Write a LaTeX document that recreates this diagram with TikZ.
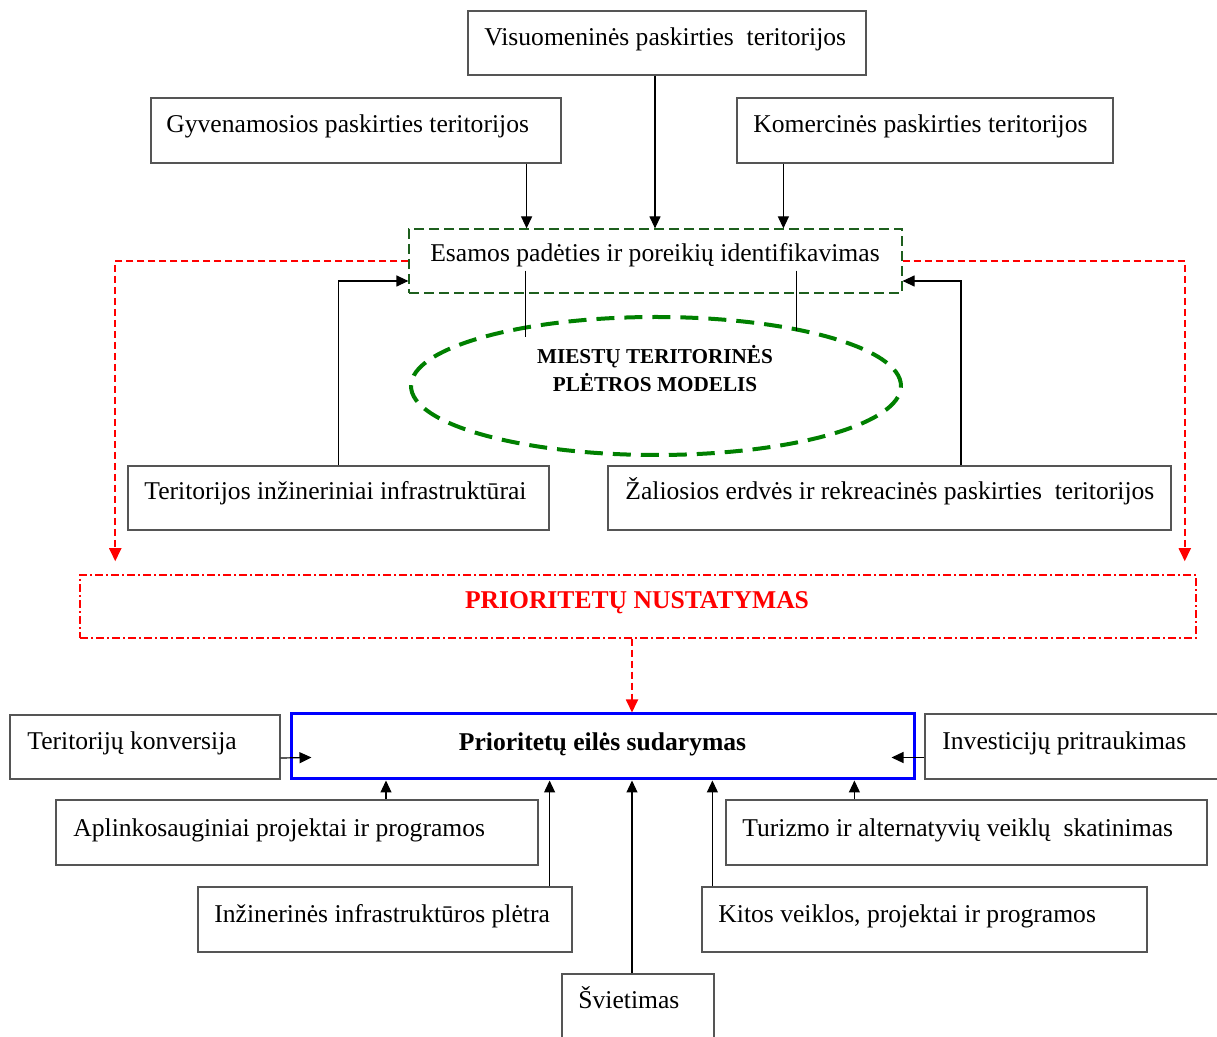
\documentclass[tikz,border=0pt]{standalone}
\usepackage{fontspec}
\setmainfont{Liberation Serif}
\usetikzlibrary{arrows.meta,calc,fit,shapes.geometric}
\definecolor{boxgray}{RGB}{85,85,85}
\definecolor{dkgreen}{RGB}{30,95,30}
\definecolor{mgreen}{RGB}{0,128,0}
\begin{document}
\begin{tikzpicture}[x=0.5pt,y=-0.5pt,
  box/.style={draw=boxgray, line width=0.6pt, inner sep=0pt, rectangle},
  txt/.style={inner sep=0pt, anchor=base west, font=\fontsize{12.8}{15}\selectfont},
  ctxt/.style={inner sep=0pt, anchor=base, font=\fontsize{12.8}{15}\selectfont},
  btxt/.style={inner sep=0pt, anchor=base, font=\fontsize{12.8}{15}\selectfont\bfseries},
  mtxt/.style={inner sep=0pt, anchor=base, font=\fontsize{10.6}{14}\selectfont\bfseries},
  plain/.style={draw=black, line width=0.6pt},
  arr/.style={draw=black, line width=0.6pt, -{Triangle[length=6pt,width=5.5pt]}},
  reddash/.style={draw=red, line width=0.9pt, dash pattern=on 3.5pt off 2pt, -{Triangle[length=6.5pt,width=6pt]}},
  greenbox/.style={draw=dkgreen, line width=0.6pt, dash pattern=on 5pt off 2.5pt, inner sep=0pt, rectangle},
  redbox/.style={draw=red, line width=0.75pt, dash pattern=on 4pt off 1.5pt on 1pt off 1.5pt, inner sep=0pt, rectangle},
  bluebox/.style={draw=blue, line width=1.5pt, inner sep=0pt, rectangle},
  modelell/.style={draw=mgreen, line width=2pt, dash pattern=on 9pt off 5pt, ellipse, inner sep=0pt}
]
\useasboundingbox (0,0) rectangle (1217,1037);

% top boxes
\node[box, fit={(468,11)(866,75)}] (vis) {};
\node[txt] (visT) at (484,46) {Visuomeninės paskirties~ teritorijos};
\node[box, fit={(151,98)(561,163)}] (gyv) {};
\node[txt] (gyvT) at (166,133) {Gyvenamosios paskirties teritorijos};
\node[box, fit={(737,98)(1113,163)}] (kom) {};
\node[txt] (komT) at (753,133) {Komercinės paskirties teritorijos};

% identification box
\node[greenbox, fit={(409,229)(902,293)}] (esamos) {};
\node[ctxt] (esamosT) at (655,262) {Esamos padėties ir poreikių identifikavimas};

% model ellipse
\node[modelell, minimum width=245pt, minimum height=69pt] (model) at (656,386) {};
\node[mtxt] (modelT1) at (655,364) {MIESTŲ TERITORINĖS};
\node[mtxt] (modelT2) at (655,392) {PLĖTROS MODELIS};

% lower side boxes
\node[box, fit={(128,466)(549,530)}] (tinz) {};
\node[txt] (tinzT) at (144,500) {Teritorijos inžineriniai infrastruktūrai};
\node[box, fit={(608,466)(1171,530)}] (zal) {};
\node[txt] (zalT) at (625,500) {Žaliosios erdvės ir rekreacinės paskirties~ teritorijos};

% priority setting
\node[redbox, fit={(80,575)(1196,638)}] (pri) {};
\node[btxt, text=red] (priT) at (637,609) {PRIORITETŲ NUSTATYMAS};

% priority ordering
\node[bluebox, fit={(291,714)(914,779)}] (blue) {};
\node[btxt] (blueT) at (602.5,751) {Prioritetų eilės sudarymas};

\node[box, fit={(10,715)(280,779)}] (konv) {};
\node[txt] (konvT) at (27,750) {Teritorijų konversija};
\node[box, fit={(925,714)(1240,779)}] (inv) {};
\node[txt] (invT) at (942,750) {Investicijų pritraukimas};
\node[box, fit={(56,800)(538,865)}] (apl) {};
\node[txt] (aplT) at (73,836) {Aplinkosauginiai projektai ir programos};
\node[box, fit={(726,800)(1207,865)}] (tur) {};
\node[txt] (turT) at (742,836) {Turizmo ir alternatyvių veiklų~ skatinimas};
\node[box, fit={(198,887)(572,952)}] (inz) {};
\node[txt] (inzT) at (214,922) {Inžinerinės infrastruktūros plėtra};
\node[box, fit={(702,887)(1147,952)}] (kit) {};
\node[txt] (kitT) at (718,922) {Kitos veiklos, projektai ir programos};
\node[box, fit={(562,974)(714,1050)}] (sviet) {};
\node[txt] (svietT) at (578,1008) {Švietimas};

% top arrows
\coordinate (a1) at ($(gyv.south east)+(-35,0)$);
\draw[arr] (a1) -- (a1 |- esamos.north);
\coordinate (a2) at ($(vis.south)+(-12,0)$);
\draw[arr] (a2) -- (a2 |- esamos.north);
\coordinate (a3) at ($(kom.south west)+(47,0)$);
\draw[arr] (a3) -- (a3 |- esamos.north);

% lines into the model
\coordinate (m1) at ($(esamos.south west)+(117,-23)$);
\coordinate (m1e) at ($(esamos.south west)+(117,43)$);
\draw[plain] (m1) -- (m1e);
\coordinate (m2) at ($(esamos.south west)+(388,-23)$);
\coordinate (m2e) at ($(esamos.south west)+(388,37)$);
\draw[plain] (m2) -- (m2e);

% side arrows
\coordinate (e1) at ($(esamos.west)+(0,20)$);
\draw[arr] (tinz.north) |- (e1);
\coordinate (e2) at ($(esamos.east)+(0,20)$);
\coordinate (z1) at ($(zal.north)+(71.5,0)$);
\draw[arr] (z1) |- (e2);

% red dashed
\draw[reddash] (esamos.west) -| ($(pri.north west)+(36,-13)$);
\draw[reddash] (esamos.east) -| ($(pri.north east)+(-12,-13)$);
\coordinate (p1) at ($(pri.south)+(-6,0)$);
\draw[reddash] (p1) -- (p1 |- blue.north);

% bottom arrows
\draw[arr] ($(konv.east)+(0,11)$) -- ($(blue.west)+(22,11)$);
\draw[arr] ($(inv.west)+(0,11)$) -- ($(blue.east)+(-24,11)$);
\coordinate (b1) at ($(apl.north)+(89,0)$);
\draw[arr] (b1) -- (b1 |- blue.south);
\coordinate (b2) at ($(inz.north east)+(-23,0)$);
\draw[arr] (b2) -- (b2 |- blue.south);
\coordinate (b3) at ($(sviet.north)+(-6,0)$);
\draw[arr] (b3) -- (b3 |- blue.south);
\coordinate (b4) at ($(kit.north west)+(11,0)$);
\draw[arr] (b4) -- (b4 |- blue.south);
\coordinate (b5) at ($(tur.north west)+(129,0)$);
\draw[arr] (b5) -- (b5 |- blue.south);
\end{tikzpicture}
\end{document}
